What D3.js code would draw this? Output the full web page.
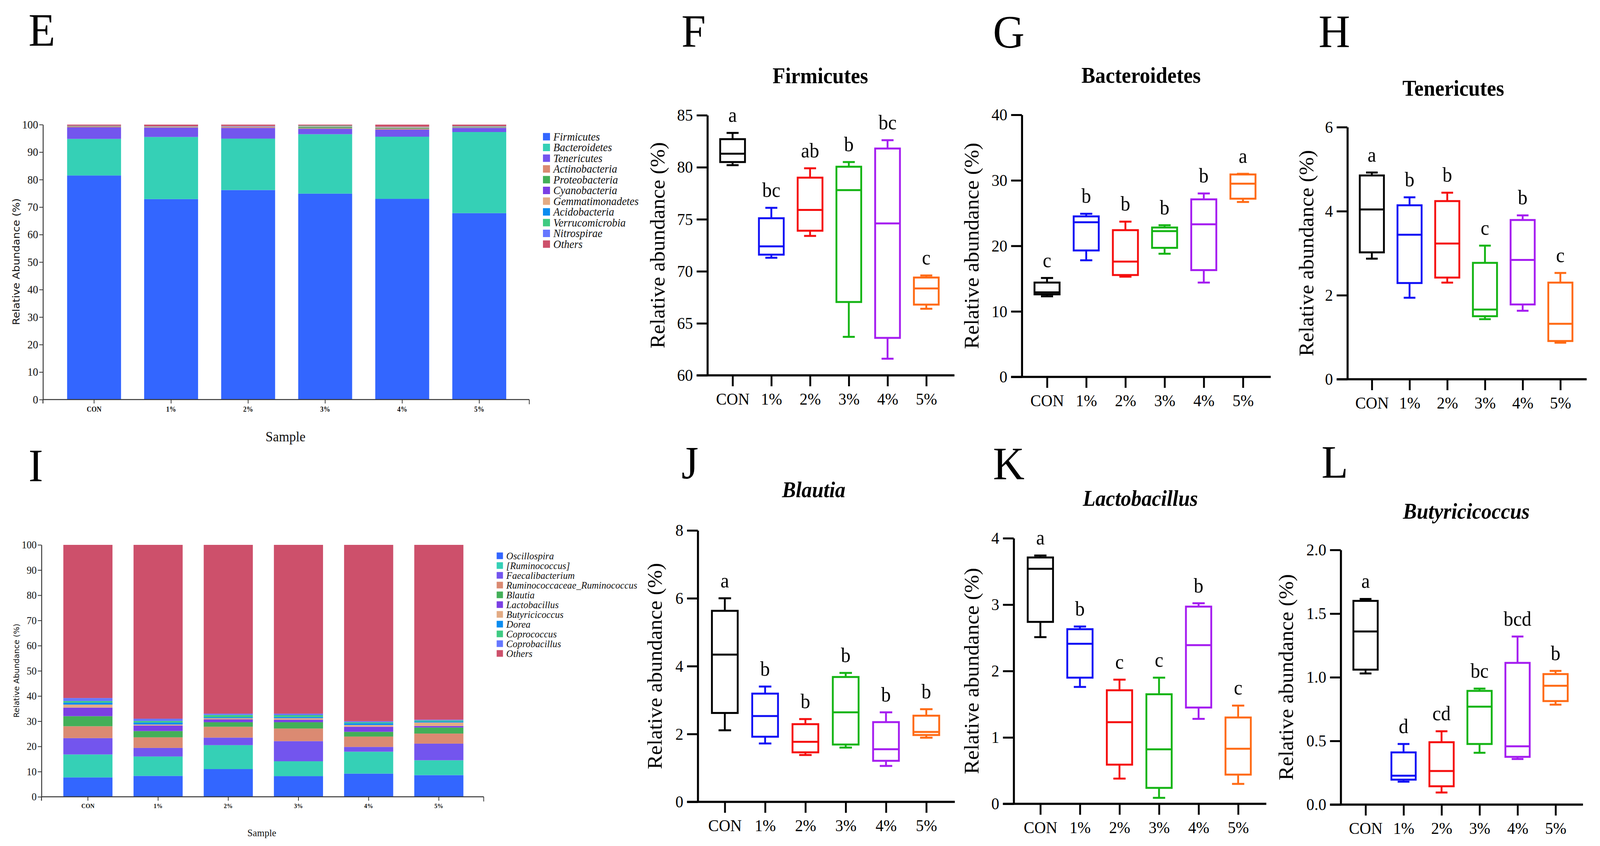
<!DOCTYPE html>
<html><head><meta charset="utf-8">
<script src="https://cdn.jsdelivr.net/npm/d3@7"></script>
<style>html,body{margin:0;padding:0;background:#fff;overflow:hidden}svg{display:block;width:100vw;height:100vh}</style>
</head><body>
<script>
// ---------------- DATA ----------------
const groups = ['CON','1%','2%','3%','4%','5%'];

// Panel E: phylum-level relative abundance (%)
const phylumNames = ['Firmicutes','Bacteroidetes','Tenericutes','Actinobacteria','Proteobacteria','Cyanobacteria','Gemmatimonadetes','Acidobacteria','Verrucomicrobia','Nitrospirae','Others'];
const pFirmicutes       = [81.5, 72.9, 76.2, 74.9, 73.0, 67.8];
const pBacteroidetes    = [13.3, 22.6, 18.7, 21.6, 22.6, 29.5];
const pTenericutes      = [4.2, 3.4, 3.9, 2.0, 2.6, 1.5];
const pActinobacteria   = [0.3, 0.2, 0.3, 0.2, 0.3, 0.1];
const pProteobacteria   = [0.1, 0.1, 0.1, 0.4, 0.3, 0.2];
const pCyanobacteria    = [0.05, 0.05, 0.1, 0.1, 0.1, 0.1];
const pGemmatimonadetes = [0.05, 0.05, 0.1, 0.2, 0.2, 0.1];
const pAcidobacteria    = [0.02, 0.02, 0.02, 0.02, 0.02, 0.02];
const pVerrucomicrobia  = [0.05, 0.05, 0.05, 0.2, 0.1, 0.1];
const pNitrospirae      = [0.02, 0.02, 0.02, 0.02, 0.02, 0.02];
const pOthers           = [0.41, 0.61, 0.51, 0.36, 0.76, 0.56];
const phylumSeries = [pFirmicutes,pBacteroidetes,pTenericutes,pActinobacteria,pProteobacteria,pCyanobacteria,pGemmatimonadetes,pAcidobacteria,pVerrucomicrobia,pNitrospirae,pOthers];

// Panel I: genus-level relative abundance (%)
const genusNames = ['Oscillospira','[Ruminococcus]','Faecalibacterium','Ruminococcaceae_Ruminococcus','Blautia','Lactobacillus','Butyricicoccus','Dorea','Coprococcus','Coprobacillus','Others'];
const gOscillospira   = [7.7, 8.3, 11.0, 8.2, 9.2, 8.6];
const gRuminococcus   = [9.1, 7.7, 9.5, 5.9, 8.7, 5.9];
const gFaecali        = [6.5, 3.4, 3.0, 8.0, 1.9, 6.6];
const gRuminoRumino   = [4.7, 4.2, 4.3, 5.0, 4.1, 4.0];
const gBlautia        = [4.0, 2.5, 1.8, 2.5, 1.9, 2.4];
const gLactobacillus  = [3.4, 2.2, 1.1, 1.0, 2.0, 0.6];
const gButyricicoccus = [1.2, 0.4, 0.5, 0.6, 0.7, 1.4];
const gDorea          = [0.8, 0.8, 0.4, 0.5, 0.7, 0.4];
const gCoprococcus    = [0.6, 0.6, 0.9, 0.7, 0.4, 0.4];
const gCoprobacillus  = [1.2, 0.9, 0.5, 0.6, 0.4, 0.3];
const gOthers         = [60.8, 69.0, 67.0, 67.0, 70.0, 69.4];
const genusSeries = [gOscillospira,gRuminococcus,gFaecali,gRuminoRumino,gBlautia,gLactobacillus,gButyricicoccus,gDorea,gCoprococcus,gCoprobacillus,gOthers];

const stackTicks = [0,10,20,30,40,50,60,70,80,90,100];

// Box panels: [min, q1, median, q3, max] per group
const firmicutesBox = [[80.2,80.5,81.3,82.7,83.3],[71.3,71.6,72.4,75.1,76.1],[73.4,73.9,75.9,79.0,79.9],[63.7,67.05,77.8,80.05,80.5],[61.6,63.6,74.6,81.8,82.6],[66.4,66.8,68.35,69.4,69.6]];
const firmicutesLetters = ['a','bc','ab','b','bc','c'];
const firmicutesTicks = [60,65,70,75,80,85];

const bacteroidetesBox = [[12.3,12.6,12.9,14.4,15.1],[17.8,19.3,23.6,24.5,24.9],[15.3,15.55,17.6,22.4,23.7],[18.8,19.7,22.25,22.8,23.15],[14.4,16.3,23.3,27.1,28.0],[26.7,27.2,29.5,30.9,31.0]];
const bacteroidetesLetters = ['c','b','b','b','b','a'];
const bacteroidetesTicks = [0,10,20,30,40];

const tenericutesBox = [[2.87,3.02,4.04,4.85,4.92],[1.94,2.29,3.44,4.14,4.33],[2.30,2.42,3.23,4.24,4.44],[1.43,1.50,1.66,2.77,3.18],[1.63,1.78,2.84,3.79,3.90],[0.87,0.91,1.32,2.30,2.53]];
const tenericutesLetters = ['a','b','b','c','b','c'];
const tenericutesTicks = [0,2,4,6];

const blautiaBox = [[2.11,2.62,4.34,5.63,6.0],[1.72,1.92,2.53,3.19,3.40],[1.38,1.46,1.77,2.29,2.44],[1.60,1.69,2.64,3.68,3.80],[1.06,1.21,1.55,2.35,2.64],[1.89,1.97,2.06,2.54,2.73]];
const blautiaLetters = ['a','b','b','b','b','b'];
const blautiaTicks = [0,2,4,6,8];

const lactobacillusBox = [[2.51,2.74,3.54,3.71,3.74],[1.76,1.90,2.41,2.63,2.67],[0.38,0.59,1.23,1.71,1.87],[0.09,0.24,0.82,1.65,1.90],[1.28,1.45,2.39,2.97,3.02],[0.30,0.44,0.83,1.30,1.48]];
const lactobacillusLetters = ['a','b','c','c','b','c'];
const lactobacillusTicks = [0,1,2,3,4];

const butyricicoccusBox = [[1.03,1.06,1.36,1.60,1.615],[0.18,0.196,0.227,0.41,0.476],[0.095,0.144,0.264,0.49,0.576],[0.407,0.476,0.769,0.893,0.911],[0.358,0.375,0.458,1.113,1.32],[0.785,0.813,0.933,1.025,1.05]];
const butyricicoccusLetters = ['a','d','cd','bc','bcd','b'];
const butyricicoccusTicks = [0,0.5,1.0,1.5,2.0];

// ---------------- STYLES ----------------
const stackColors = ['#3366FF','#35D0B6','#7355EE','#DB8A72','#43AF58','#7B3FE4','#E3AB84','#0A8CF0','#3FCB82','#6677FF','#CD506B'];
const boxColors = ['#000000','#1010F5','#F50D0D','#14B414','#A51DF0','#FF6A14'];
const SERIF = '"Liberation Serif","Times New Roman",Times,serif';

const W = 4320, H = 2166;
const svg = d3.select('body').append('svg')
  .attr('viewBox', `0 0 ${W} ${H}`).attr('preserveAspectRatio', 'none');
svg.append('rect').attr('width', W).attr('height', H).attr('fill', '#fff');

// panel letters
[['E',77,117],['F',1840,120],['G',2681,122],['H',3560,120],['I',77,1232],['J',1840,1225],['K',2681,1227],['L',3568,1223]]
  .forEach(([t,x,y]) => svg.append('text').attr('x',x).attr('y',y).attr('font-family',SERIF)
    .attr('font-size',118).attr('fill','#000').text(t));

// ---------------- STACKED BAR PANELS ----------------
function stackedPanel(c) {
  const g = svg.append('g');
  const y = d3.scaleLinear().domain([0,100]).range([c.yBot, c.yTop]);
  const x = d3.scaleBand().domain(groups).range(c.band).paddingInner(0.3).paddingOuter(0.15);
  const rows = groups.map((grp, i) => {
    const r = {group: grp};
    c.names.forEach((n, k) => r[n] = c.series[k][i]);
    return r;
  });
  const stack = d3.stack().keys(c.names)(rows);
  stack.forEach((layer, k) => {
    g.append('g').attr('fill', c.colors[k]).selectAll('rect').data(layer).join('rect')
      .attr('x', d => x(d.data.group)).attr('width', x.bandwidth())
      .attr('y', d => y(d[1])).attr('height', d => Math.max(0, y(d[0]) - y(d[1])));
  });
  const ya = g.append('g').attr('transform', `translate(${c.x0},0)`)
    .call(d3.axisLeft(y).tickValues(stackTicks).tickSize(10).tickSizeOuter(0).tickPadding(3));
  ya.select('.domain').attr('stroke','#333').attr('stroke-width',2.5);
  ya.selectAll('.tick line').attr('stroke','#333').attr('stroke-width',2);
  ya.selectAll('.tick text').attr('font-family',SERIF).attr('font-size',c.yTickFont).attr('fill','#111');
  g.append('line').attr('x1',c.x0).attr('x2',c.x0).attr('y1',c.yBot).attr('y2',c.yBot+10).attr('stroke','#333').attr('stroke-width',2.5);
  g.append('line').attr('x1',c.x0).attr('x2',c.x1).attr('y1',c.yBot).attr('y2',c.yBot).attr('stroke','#333').attr('stroke-width',2.5);
  g.append('line').attr('x1',c.x1).attr('x2',c.x1).attr('y1',c.yBot).attr('y2',c.yBot+12).attr('stroke','#333').attr('stroke-width',2);
  const xa = g.append('g').attr('transform', `translate(0,${c.yBot})`)
    .call(d3.axisBottom(x).tickSize(10).tickSizeOuter(0).tickPadding(8));
  xa.select('.domain').remove();
  xa.selectAll('.tick line').attr('stroke','#333').attr('stroke-width',2);
  xa.selectAll('.tick text').attr('font-family',SERIF).attr('font-weight','bold')
    .attr('font-size',c.xTickFont).attr('fill','#111');
  g.append('text').attr('transform',`translate(${c.yTitle[0]},${c.yTitle[1]}) rotate(-90)`)
    .attr('text-anchor','middle').attr('dominant-baseline','central')
    .attr('font-family','"DejaVu Sans",Verdana,sans-serif').attr('font-size',c.yTitleFont)
    .attr('fill','#111').text('Relative Abundance (%)');
  g.append('text').attr('x',c.sample[0]).attr('y',c.sample[1]).attr('text-anchor','middle')
    .attr('font-family',SERIF).attr('font-size',c.sampleFont).attr('fill','#111').text('Sample');
  const lg = g.append('g');
  c.names.forEach((n, k) => {
    const cy = c.legY + k * c.legStep;
    lg.append('rect').attr('x',c.legX).attr('y',cy - c.sw/2).attr('width',c.sw).attr('height',c.sw).attr('fill',c.colors[k]);
    lg.append('text').attr('x',c.legX + c.sw + 9).attr('y',cy).attr('dominant-baseline','central')
      .attr('font-family',SERIF).attr('font-style','italic').attr('font-size',c.legFont).attr('fill','#111').text(n);
  });
}

stackedPanel({names: phylumNames, series: phylumSeries, colors: stackColors,
  x0:116, x1:1429, yTop:319, yBot:1023, band:[150,1398],
  yTickFont:29, xTickFont:18, yTitle:[43,670], yTitleFont:27, sample:[771,1130], sampleFont:36,
  legX:1466, legY:350, legStep:27.5, sw:19, legFont:29});

stackedPanel({names: genusNames, series: genusSeries, colors: stackColors,
  x0:112, x1:1306, yTop:1395, yBot:2040, band:[142.6,1279.6],
  yTickFont:27, xTickFont:16, yTitle:[45,1717], yTitleFont:20, sample:[707,2141], sampleFont:26,
  legX:1341, legY:1423, legStep:25, sw:17, legFont:26});

// ---------------- BOX PANELS ----------------
function boxPanel(c) {
  const g = svg.append('g');
  const y = d3.scaleLinear().domain(c.domain).range([c.yBot, c.yTop]);
  const x = d3.scalePoint().domain(groups).range(c.cx);
  const step = x.step();
  const bw = step * 0.64, cw = step * 0.31, sw = 5;
  const ya = g.append('g').attr('transform',`translate(${c.x0},0)`)
    .call(d3.axisLeft(y).tickValues(c.ticks).tickSize(29).tickSizeOuter(0).tickPadding(10)
      .tickFormat(c.fmt ? d3.format(c.fmt) : d3.format('d')));
  ya.select('.domain').attr('stroke','#000').attr('stroke-width',5.5);
  ya.selectAll('.tick line').attr('stroke','#000').attr('stroke-width',5);
  ya.selectAll('.tick text').attr('font-family',SERIF).attr('font-size',43).attr('fill','#000');
  g.append('line').attr('x1',c.x0 - 29).attr('x2',c.x1).attr('y1',c.yBot).attr('y2',c.yBot)
    .attr('stroke','#000').attr('stroke-width',5.5);
  const xa = g.append('g').attr('transform',`translate(0,${c.yBot})`)
    .call(d3.axisBottom(x).tickSize(28).tickSizeOuter(0).tickPadding(16));
  xa.select('.domain').remove();
  xa.selectAll('.tick line').attr('stroke','#000').attr('stroke-width',5);
  xa.selectAll('.tick text').attr('font-family',SERIF).attr('font-size',43).attr('fill','#000');
  c.stats.forEach((s, i) => {
    const cx = x(groups[i]), col = boxColors[i];
    const [mn, q1, md, q3, mx] = s;
    const bg = g.append('g').attr('stroke', col).attr('stroke-width', sw).attr('fill','none');
    bg.append('line').attr('x1',cx).attr('x2',cx).attr('y1',y(mx)).attr('y2',y(q3));
    bg.append('line').attr('x1',cx).attr('x2',cx).attr('y1',y(q1)).attr('y2',y(mn));
    bg.append('line').attr('x1',cx-cw/2).attr('x2',cx+cw/2).attr('y1',y(mx)).attr('y2',y(mx));
    bg.append('line').attr('x1',cx-cw/2).attr('x2',cx+cw/2).attr('y1',y(mn)).attr('y2',y(mn));
    bg.append('rect').attr('x',cx-bw/2).attr('width',bw).attr('y',y(q3)).attr('height',y(q1)-y(q3)).attr('fill','#fff');
    bg.append('line').attr('x1',cx-bw/2).attr('x2',cx+bw/2).attr('y1',y(md)).attr('y2',y(md));
    g.append('text').attr('x',cx).attr('y',y(mx) - 28).attr('text-anchor','middle')
      .attr('font-family',SERIF).attr('font-size',52).attr('fill','#000').text(c.letters[i]);
  });
  g.append('text').attr('x',c.title[0]).attr('y',c.title[1]).attr('text-anchor','middle')
    .attr('font-family',SERIF).attr('font-weight','bold').attr('font-style',c.italic ? 'italic' : 'normal')
    .attr('font-size',56).attr('fill','#000').text(c.name);
  g.append('text').attr('transform',`translate(${c.yTitleX},${(c.yTop + c.yBot)/2}) rotate(-90)`)
    .attr('text-anchor','middle').attr('dominant-baseline','central')
    .attr('font-family',SERIF).attr('font-size',55).attr('fill','#000').text('Relative abundance (%)');
}

boxPanel({name:'Firmicutes', stats:firmicutesBox, letters:firmicutesLetters, ticks:firmicutesTicks,
  domain:[60,85], x0:1910, x1:2577, cx:[1978,2501], yTop:295, yBot:961, title:[2215,213], yTitleX:1776});
boxPanel({name:'Bacteroidetes', stats:bacteroidetesBox, letters:bacteroidetesLetters, ticks:bacteroidetesTicks,
  domain:[0,40], x0:2759, x1:3431, cx:[2827,3356], yTop:294, yBot:965, title:[3081,212], yTitleX:2623});
boxPanel({name:'Tenericutes', stats:tenericutesBox, letters:tenericutesLetters, ticks:tenericutesTicks,
  domain:[0,6], x0:3638, x1:4284, cx:[3704,4213], yTop:325.5, yBot:971, title:[3924,245], yTitleX:3527});
boxPanel({name:'Blautia', italic:true, stats:blautiaBox, letters:blautiaLetters, ticks:blautiaTicks,
  domain:[0,8], x0:1884, x1:2578, cx:[1957,2501], yTop:1358, yBot:2053, title:[2197,1273], yTitleX:1768});
boxPanel({name:'Lactobacillus', italic:true, stats:lactobacillusBox, letters:lactobacillusLetters, ticks:lactobacillusTicks,
  domain:[0,4], x0:2737, x1:3419, cx:[2809,3343], yTop:1378, yBot:2058, title:[3079,1295], yTitleX:2623});
boxPanel({name:'Butyricicoccus', italic:true, stats:butyricicoccusBox, letters:butyricicoccusLetters, ticks:butyricicoccusTicks,
  fmt:'.1f', domain:[0,2], x0:3620, x1:4274, cx:[3687,4200], yTop:1408, yBot:2060, title:[3959,1328], yTitleX:3473});
</script>
</body></html>
